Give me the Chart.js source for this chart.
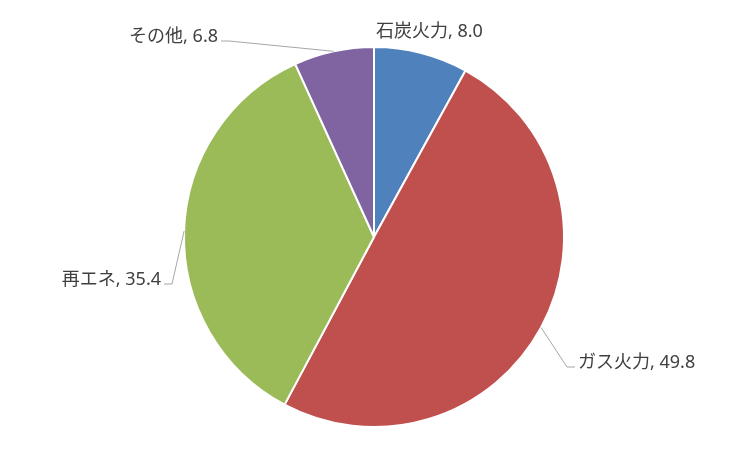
<!DOCTYPE html>
<html>
<head>
<meta charset="utf-8">
<script src="https://cdn.jsdelivr.net/npm/chart.js@4"></script>
<style>
  html, body { margin: 0; padding: 0; background: #fff; }
  #wrap { width: 748px; height: 464px; }
</style>
</head>
<body>
<div id="wrap"><canvas id="chart-area" width="748" height="464"></canvas></div>
<script>
const categories = ['石炭火力', 'ガス火力', '再エネ', 'その他'];
const shares = [8.0, 49.8, 35.4, 6.8];
const sliceColors = ['#4F81BD', '#C0504D', '#9BBB59', '#8064A2'];

// where each label sits, relative to the pie centre (px); leader = has a connector line
const labelPlaces = [
    { dx: 2, dy: -207, align: 'left', leader: false },
    { dx: 204, dy: 124, align: 'left', leader: true },
    { dx: -213, dy: 41, align: 'right', leader: true },
    { dx: -156, dy: -202, align: 'right', leader: true }
];

const pieLabels = {
    id: 'pieLabels',
    afterDraw(chart) {
        const ctx = chart.ctx;
        const meta = chart.getDatasetMeta(0);
        ctx.save();
        ctx.font = '18px "Noto Sans", "Noto Sans CJK JP", sans-serif';
        ctx.fillStyle = '#404040';
        ctx.textBaseline = 'middle';
        meta.data.forEach(function (arc, i) {
            const p = arc.getProps(['x', 'y', 'startAngle', 'endAngle', 'outerRadius'], true);
            const mid = (p.startAngle + p.endAngle) / 2;
            const place = labelPlaces[i];
            const tx = p.x + place.dx;
            const ty = p.y + place.dy;
            const text = categories[i] + ', ' + shares[i].toFixed(1);
            if (place.leader) {
                const ex = p.x + Math.cos(mid) * p.outerRadius;
                const ey = p.y + Math.sin(mid) * p.outerRadius;
                const ly = ty + 6;
                const dir = place.align === 'left' ? -1 : 1;
                ctx.strokeStyle = '#A6A6A6';
                ctx.lineWidth = 1;
                ctx.beginPath();
                ctx.moveTo(ex, ey);
                ctx.lineTo(tx + dir * 11, ly);
                ctx.lineTo(tx + dir * 3, ly);
                ctx.stroke();
            }
            ctx.textAlign = place.align;
            ctx.fillText(text, tx, ty + 2);
        });
        ctx.restore();
    }
};

new Chart(document.getElementById('chart-area').getContext('2d'), {
    type: 'pie',
    data: {
        labels: categories,
        datasets: [{
            data: shares,
            backgroundColor: sliceColors,
            borderColor: '#FFFFFF',
            borderWidth: 2
        }]
    },
    options: {
        animation: false,
        responsive: false,
        layout: { padding: { top: 46, bottom: 36, left: 0, right: 0 } },
        plugins: {
            legend: { display: false },
            tooltip: { enabled: false }
        }
    },
    plugins: [pieLabels]
});
</script>
</body>
</html>
